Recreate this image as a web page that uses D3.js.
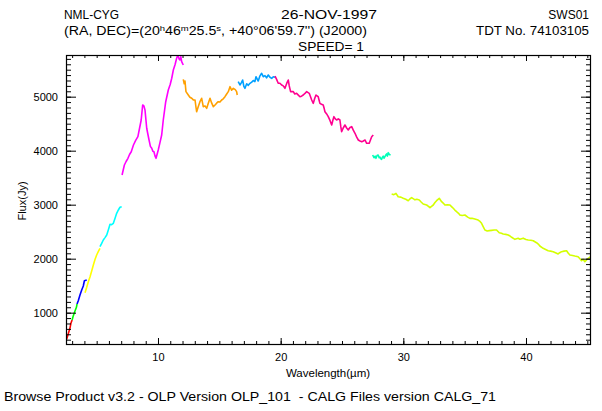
<!DOCTYPE html>
<html><head><meta charset="utf-8">
<script src="https://cdn.jsdelivr.net/npm/d3@7"></script>
<style>
body{margin:0;background:#fff;}
text{font-family:"Liberation Sans",Arial,sans-serif;fill:#000;white-space:pre;}
</style></head><body>
<svg id="c" width="602" height="411"></svg>
<script>
// ---- data (wavelength µm, flux Jy) per SWS band segment ----
const segRed = [[2.55,507],[2.68,605],[2.82,711],[2.90,803],[3.00,864]];
const segGreen = [[3.00,864],[3.07,926],[3.21,1018],[3.35,1100],[3.40,1161]];
const segBlue = [[3.40,1161],[3.50,1222],[3.64,1328],[3.78,1420],[3.91,1494],[4.00,1592],[4.19,1605]];
const segYellow = [[4.05,1370],[4.19,1470],[4.32,1574],[4.46,1667],[4.60,1778],[4.73,1883],[4.87,1988],[5.00,2068],[5.13,2130],[5.27,2192]];
const segCyan = [[5.27,2222],[5.41,2285],[5.54,2346],[5.68,2390],[5.82,2439],[5.95,2531],[6.09,2637],[6.22,2630],[6.36,2655],[6.50,2748],[6.63,2840],[6.77,2902],[6.90,2952],[7.04,2963]];
const segMagenta = [[7.07,3550],[7.26,3735],[7.40,3800],[7.55,3859],[7.68,3930],[7.82,3981],[8.00,4105],[8.18,4190],[8.36,4259],[8.50,4420],[8.63,4568],[8.75,4846],[8.85,4830],[8.94,4754],[9.08,4415],[9.18,4300],[9.27,4198],[9.38,4080],[9.49,4044],[9.58,3990],[9.67,3981],[9.76,3900],[9.84,3859],[10.02,4013],[10.16,4150],[10.30,4291],[10.43,4568],[10.63,4907],[10.84,5124],[11.00,5230],[11.12,5341],[11.25,5494],[11.40,5600],[11.52,5711],[11.62,5772],[11.72,5700],[11.79,5680],[11.86,5740],[11.93,5648],[12.06,5587]];
const segOrange = [[12.06,5322],[12.14,5240],[12.20,5290],[12.28,5093],[12.47,5031],[12.60,4990],[12.75,4970],[12.88,4940],[13.02,4939],[13.10,4800],[13.15,4722],[13.28,4815],[13.42,4907],[13.56,4970],[13.69,4815],[13.83,4830],[13.97,4784],[14.10,4877],[14.24,4970],[14.38,4880],[14.51,4815],[14.65,4846],[14.78,4880],[14.91,4907],[15.05,4900],[15.19,4939],[15.32,4960],[15.46,5000],[15.60,5050],[15.73,5093],[15.87,5185],[16.00,5120],[16.14,5155],[16.30,5130],[16.41,5093],[16.46,5031]];
const segSky = [[16.54,5278],[16.68,5217],[16.80,5260],[16.90,5309],[17.00,5190],[17.09,5155],[17.23,5240],[17.36,5210],[17.50,5248],[17.64,5270],[17.77,5300],[17.90,5280],[17.99,5370],[18.08,5330],[18.17,5290],[18.30,5380],[18.45,5433],[18.58,5370],[18.72,5390],[18.85,5350],[18.99,5402],[19.13,5360],[19.27,5340],[19.40,5370],[19.54,5360]];
const segPink = [[19.54,5380],[19.67,5320],[19.80,5248],[19.94,5250],[20.08,5217],[20.21,5200],[20.35,5155],[20.50,5250],[20.62,5309],[20.70,5200],[20.81,5093],[21.03,5093],[21.15,5050],[21.30,5062],[21.44,5030],[21.57,5000],[21.70,5010],[21.84,5031],[21.98,5060],[22.12,5093],[22.33,5062],[22.45,4990],[22.53,4939],[22.66,4877],[22.78,4970],[22.88,5031],[23.06,5000],[23.14,4930],[23.20,4877],[23.33,4860],[23.47,4846],[23.55,4780],[23.61,4722],[23.75,4680],[23.88,4630],[24.02,4560],[24.16,4476],[24.25,4560],[24.34,4630],[24.45,4590],[24.56,4568],[24.70,4590],[24.83,4568],[24.90,4450],[24.97,4352],[25.10,4420],[25.24,4476],[25.38,4420],[25.51,4383],[25.65,4430],[25.79,4445],[25.92,4380],[26.06,4322],[26.20,4250],[26.33,4198],[26.47,4180],[26.61,4167],[26.74,4180],[26.88,4198],[27.01,4137],[27.22,4137],[27.42,4259],[27.55,4291]];
const segAqua = [[27.50,3920],[27.61,3870],[27.70,3900],[27.77,3859],[27.86,3910],[27.95,3920],[28.03,3870],[28.10,3880],[28.17,3850],[28.23,3840],[28.30,3880],[28.36,3900],[28.43,3860],[28.50,3890],[28.57,3920],[28.64,3940],[28.70,3900],[28.77,3963],[28.86,3930],[28.96,3920]];
const segLime = [[29.05,3198],[29.23,3185],[29.40,3210],[29.58,3148],[29.80,3140],[29.99,3118],[30.20,3100],[30.40,3074],[30.55,3110],[30.68,3130],[30.95,3090],[31.10,3100],[31.30,3087],[31.45,3050],[31.62,3013],[31.90,2994],[32.05,2970],[32.17,2944],[32.30,2970],[32.44,2994],[32.58,3040],[32.71,3074],[32.93,3118],[33.12,3055],[33.25,3030],[33.39,2994],[33.60,3000],[33.80,2994],[33.95,2960],[34.07,2933],[34.20,2900],[34.34,2870],[34.50,2840],[34.61,2809],[34.80,2800],[35.02,2809],[35.25,2770],[35.43,2747],[35.60,2750],[35.83,2735],[36.10,2716],[36.25,2690],[36.38,2655],[36.50,2600],[36.65,2531],[36.84,2513],[37.00,2520],[37.20,2525],[37.40,2530],[37.60,2531],[37.82,2481],[38.00,2470],[38.14,2457],[38.35,2450],[38.55,2439],[38.70,2420],[38.83,2396],[39.10,2358],[39.36,2377],[39.50,2360],[39.64,2370],[39.77,2380],[40.00,2355],[40.18,2346],[40.40,2340],[40.59,2333],[40.86,2296],[41.00,2270],[41.13,2235],[41.40,2192],[41.60,2170],[41.81,2148],[42.00,2140],[42.22,2130],[42.45,2105],[42.62,2087],[42.75,2110],[42.90,2130],[43.10,2140],[43.31,2148],[43.45,2100],[43.58,2068],[43.80,2060],[43.98,2050],[44.25,2037],[44.40,2000],[44.53,1963],[44.65,1990],[44.80,1944],[44.95,1980],[45.07,2007],[45.27,2037]];

const segments = [
  {data:segRed, color:"#ff0000"},
  {data:segGreen, color:"#00ff00"},
  {data:segBlue, color:"#0000ff"},
  {data:segYellow, color:"#ffff00"},
  {data:segCyan, color:"#00ffff"},
  {data:segMagenta, color:"#ff00ff"},
  {data:segOrange, color:"#ffa000"},
  {data:segSky, color:"#00a0ff"},
  {data:segPink, color:"#ff0090"},
  {data:segAqua, color:"#00ffb8"},
  {data:segLime, color:"#d4ff00"}
];

const xMajor = [10,20,30,40];
const xMinor = d3.range(3,46,1);
const yMajor = [1000,2000,3000,4000,5000];
const yMinor = d3.range(500,5800,100);

const headerLeft1 = "NML-CYG";
const headerMid1 = "26-NOV-1997";
const headerRight1 = "SWS01";
const headerRight2 = "TDT No. 74103105";
const headerMid3 = "SPEED= 1";
const footer = "Browse Product v3.2 - OLP Version OLP_101  - CALG Files version CALG_71";

// ---- layout ----
const L=66, R=591, T=55, B=344;
const svg = d3.select("#c");
const x = d3.scaleLinear().domain([2.5,45.3]).range([L,R]);
const y = d3.scaleLinear().domain([420,5772]).range([B,T]);

// header
function txt(s,xp,yp,anchor,len){
  const t = svg.append("text").attr("x",xp).attr("y",yp).attr("text-anchor",anchor)
    .style("font-size","12px").text(s);
  if(len) t.attr("textLength",len).attr("lengthAdjust","spacingAndGlyphs");
  return t;
}
txt(headerLeft1,64,19,"start",55);
txt(headerMid1,281,19,"start",96);
txt(headerRight1,589,19,"end");
txt(headerRight2,589,35,"end",113);
txt(headerMid3,298,51,"start",66);
// RA/DEC line with superscripts
const ra = svg.append("text").attr("x",64).attr("y",35).style("font-size","12px")
  .attr("textLength",303).attr("lengthAdjust","spacingAndGlyphs");
ra.append("tspan").text("(RA, DEC)=(20");
ra.append("tspan").attr("dy",-4).style("font-size","8px").text("h");
ra.append("tspan").attr("dy",4).text("46");
ra.append("tspan").attr("dy",-4).style("font-size","8px").text("m");
ra.append("tspan").attr("dy",4).text("25.5");
ra.append("tspan").attr("dy",-4).style("font-size","8px").text("s");
ra.append("tspan").attr("dy",4).text(", +40°06'59.7'') (J2000)");

// footer
txt(footer,4,401,"start",492);

// clip
svg.append("clipPath").attr("id","pc").append("rect")
  .attr("x",L).attr("y",T).attr("width",R-L).attr("height",B-T);

// spectrum
const line = d3.line().x(d=>x(d[0])).y(d=>y(d[1]));
const g = svg.append("g").attr("clip-path","url(#pc)");
segments.forEach(s=>{
  g.append("path").attr("d",line(s.data)).attr("fill","none")
    .attr("stroke",s.color).attr("stroke-width",1.6).attr("stroke-linejoin","round");
});

// axes
function styleAxis(sel){
  sel.select(".domain").remove();
  sel.selectAll("line").attr("stroke","#000").attr("stroke-width",1);
  sel.selectAll("text").style("font-size","11px").style("font-family","Liberation Sans, Arial, sans-serif");
}
svg.append("g").attr("transform",`translate(0,${B})`)
  .call(d3.axisBottom(x).tickValues(xMinor).tickSize(-3).tickFormat(""))
  .call(styleAxis);
svg.append("g").attr("transform",`translate(0,${B})`)
  .call(d3.axisBottom(x).tickValues(xMajor).tickSize(-6).tickPadding(9).tickFormat(d3.format("d")))
  .call(styleAxis);
svg.append("g").attr("transform",`translate(0,${T})`)
  .call(d3.axisTop(x).tickValues(xMinor).tickSize(-3).tickFormat(""))
  .call(styleAxis);
svg.append("g").attr("transform",`translate(0,${T})`)
  .call(d3.axisTop(x).tickValues(xMajor).tickSize(-6).tickFormat(""))
  .call(styleAxis);
svg.append("g").attr("transform",`translate(${L},0)`)
  .call(d3.axisLeft(y).tickValues(yMinor).tickSize(-5).tickFormat(""))
  .call(styleAxis);
svg.append("g").attr("transform",`translate(${L},0)`)
  .call(d3.axisLeft(y).tickValues(yMajor).tickSize(-10).tickPadding(8).tickFormat(d3.format("d")))
  .call(styleAxis);
svg.append("g").attr("transform",`translate(${R},0)`)
  .call(d3.axisRight(y).tickValues(yMinor).tickSize(-5).tickFormat(""))
  .call(styleAxis);
svg.append("g").attr("transform",`translate(${R},0)`)
  .call(d3.axisRight(y).tickValues(yMajor).tickSize(-10).tickFormat(""))
  .call(styleAxis);

// frame
svg.append("rect").attr("x",L+0.5).attr("y",T+0.5).attr("width",R-L-1).attr("height",B-T)
  .attr("fill","none").attr("stroke","#000").attr("stroke-width",1.2);

// axis titles
svg.append("text").attr("x",328).attr("y",377).attr("text-anchor","middle")
  .style("font-size","11.5px").text("Wavelength(µm)");
svg.append("text").attr("transform","translate(26,201) rotate(-90)").attr("text-anchor","middle")
  .style("font-size","11px").text("Flux(Jy)");
</script>
</body></html>
